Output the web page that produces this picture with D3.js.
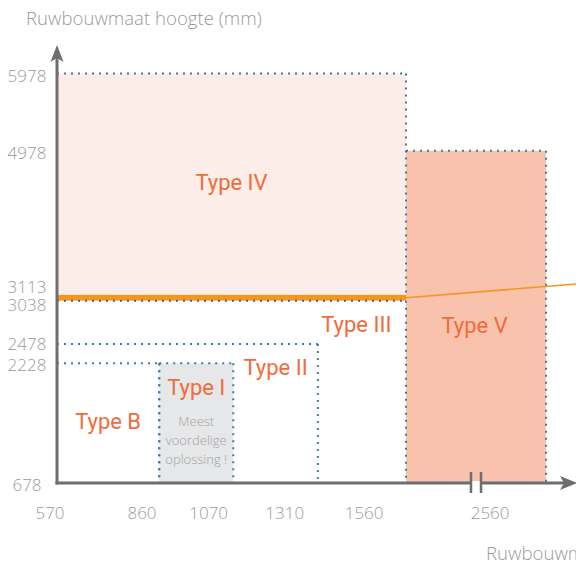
<!DOCTYPE html>
<html><head><meta charset="utf-8">
<script src="https://cdn.jsdelivr.net/npm/d3@7"></script>
<style>html,body{margin:0;padding:0;background:#fff;overflow:hidden}svg{display:block}</style>
</head><body>
<svg id="c" width="576" height="568"></svg>
<script>
// ---- data ----
const xTicks = [570, 860, 1070, 1310, 1560, 2560];
const yTicks = [678, 2228, 2478, 3038, 3113, 4978, 5978];
const typeNames = ["Type B", "Type I", "Type II", "Type III", "Type IV", "Type V"];
const typeX0 = [570, 860, 570, 570, 570, 1560];
const typeX1 = [860, 1070, 1310, 1560, 1560, 2560];
const typeY0 = [678, 678, 678, 678, 3113, 678];
const typeY1 = [2228, 2228, 2478, 3038, 5978, 4978];
const bandRange = [3038, 3113];
const trendX = [1560, 2800];
const trendY = [3075, 3258];
const noteLines = ["Meest", "voordelige", "oplossing !"];
const yTitle = "Ruwbouwmaat hoogte (mm)";
const xTitle = "Ruwbouwmaat breedte (mm)";

// ---- scales ----
const x = d3.scaleLinear().domain([570, 1560, 2560]).range([57, 406, 546]);
const y = d3.scaleLinear().domain([678, 5978]).range([483, 73.5]);

const svg = d3.select("#c");
const greyFont = "'Open Sans', Lato, sans-serif";
const typeFont = "Roboto, 'Noto Sans', sans-serif";
const dotColor = "#3b7e9e";
const orange = "#f7941d";
const labelOrange = "#f26b3a";
const axisGrey = "#6d6e71";
const textGrey = "#999a9c";
const fills = {"Type I": "#e6e7e8", "Type IV": "#fcede8", "Type V": "#f8c2ad"};

const types = typeNames.map((n, i) => ({name: n, x0: typeX0[i], x1: typeX1[i], y0: typeY0[i], y1: typeY1[i]}));

// fills
svg.append("g").selectAll("rect").data(types.filter(t => fills[t.name])).join("rect")
  .attr("x", d => x(d.x0)).attr("y", d => y(d.y1))
  .attr("width", d => x(d.x1) - x(d.x0)).attr("height", d => y(d.y0) - y(d.y1))
  .attr("fill", d => fills[d.name]);

// orange band
svg.append("rect")
  .attr("x", x(570)).attr("y", y(bandRange[1]))
  .attr("width", x(1560) - x(570)).attr("height", y(bandRange[0]) - y(bandRange[1]))
  .attr("fill", orange);

// trend line
const trendData = trendX.map((v, i) => [v, trendY[i]]);
svg.append("path").datum(trendData)
  .attr("d", d3.line().x(d => x(d[0])).y(d => y(d[1])))
  .attr("stroke", orange).attr("stroke-width", 1.6).attr("fill", "none");

// dotted outlines
const segs = [];
types.forEach(t => {
  segs.push([t.x0, t.y1, t.x1, t.y1]);
  segs.push([t.x1, t.y1, t.x1, t.y0]);
  if (t.x0 !== 570 && t.name !== "Type V") segs.push([t.x0, t.y1, t.x0, t.y0]);
});
segs.push([570, bandRange[0], 1560, bandRange[0]]);
svg.append("g").selectAll("line").data(segs).join("line")
  .attr("x1", d => x(d[0])).attr("y1", d => y(d[1]))
  .attr("x2", d => x(d[2])).attr("y2", d => y(d[3]))
  .attr("stroke", dotColor).attr("stroke-width", 2)
  .attr("stroke-dasharray", "2 5");

// axes
const x0p = x(570), y0p = y(678);
svg.append("line").attr("x1", x0p).attr("y1", y0p + 1.5).attr("x2", x0p).attr("y2", 55)
  .attr("stroke", axisGrey).attr("stroke-width", 3);
svg.append("line").attr("x1", x0p - 1.5).attr("y1", y0p).attr("x2", 566).attr("y2", y0p)
  .attr("stroke", axisGrey).attr("stroke-width", 3);
svg.append("path").attr("d", `M${x0p},45 L${x0p + 6.5},62 L${x0p},58 L${x0p - 6.5},62 Z`).attr("fill", axisGrey);
svg.append("path").attr("d", `M577,${y0p} L560,${y0p - 7} L564,${y0p} L560,${y0p + 7} Z`).attr("fill", axisGrey);

// axis break
const bx = (x(1560) + x(2560)) / 2;
svg.append("rect").attr("x", bx - 4).attr("y", y0p - 2).attr("width", 8).attr("height", 4).attr("fill", "#fff");
[-5, 5].forEach(o => svg.append("line")
  .attr("x1", bx + o).attr("x2", bx + o).attr("y1", y0p - 11).attr("y2", y0p + 10)
  .attr("stroke", axisGrey).attr("stroke-width", 2.5));

// x tick labels
svg.append("g").selectAll("text").data(xTicks).join("text")
  .attr("x", d => 50 + 0.9 * (x(d) - x0p)).attr("y", 519)
  .attr("text-anchor", "middle").attr("font-family", greyFont).attr("font-weight", 300)
  .attr("font-size", 17).attr("fill", textGrey).text(d => d);

// y tick labels (with overlap nudging)
const ySorted = yTicks.slice().sort((a, b) => b - a);
const yLab = [];
ySorted.forEach(v => {
  let b = y(v) + 8;
  const prev = yLab[yLab.length - 1];
  if (prev) {
    const diff = b - prev.b;
    if (diff < 12) { prev.b = y(prev.v) - 2; b = prev.b + 18; }
    else if (diff < 21) { prev.b = b - 21; }
  }
  yLab.push({v, b});
});
svg.append("g").selectAll("text").data(yLab).join("text")
  .attr("x", 27).attr("y", d => d.b)
  .attr("text-anchor", "middle").attr("font-family", greyFont).attr("font-weight", 300)
  .attr("font-size", 17).attr("fill", textGrey).text(d => d.v);

// axis titles
svg.append("text").attr("x", 26).attr("y", 25).attr("font-family", greyFont).attr("font-weight", 300)
  .attr("font-size", 18.6).attr("fill", textGrey).text(yTitle);
svg.append("text").attr("x", 486).attr("y", 560).attr("font-family", greyFont).attr("font-weight", 300)
  .attr("font-size", 18.6).attr("fill", textGrey).text(xTitle);

// type labels
const labelPos = {
  "Type B": [x(715), 429], "Type I": [x(965), 395], "Type II": [x(1190), 375],
  "Type III": [x(1419), 332], "Type IV": [x(1065), 190], "Type V": [x(2050), 333]
};
svg.append("g").selectAll("text").data(types).join("text")
  .attr("x", d => labelPos[d.name][0]).attr("y", d => labelPos[d.name][1])
  .attr("text-anchor", "middle").attr("font-family", typeFont)
  .attr("font-size", 22).attr("fill", labelOrange).text(d => d.name);

// note
svg.append("g").selectAll("text").data(noteLines).join("text")
  .attr("x", x(965)).attr("y", (d, i) => 426 + i * 19)
  .attr("text-anchor", "middle").attr("font-family", greyFont).attr("font-weight", 300)
  .attr("font-size", 13).attr("fill", "#a3a3a3").text(d => d);
</script>
</body></html>
